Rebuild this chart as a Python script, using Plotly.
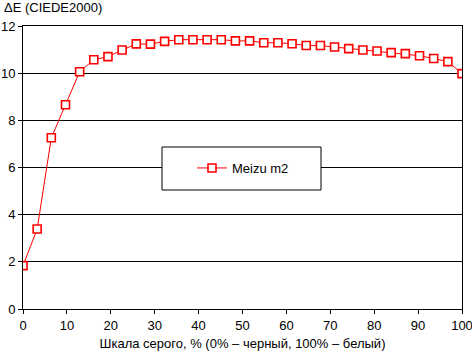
import plotly.graph_objects as go

n = 32
x_vals = [i * 100 / 31 for i in range(n)]
y_vals = [1.84, 3.39, 7.26, 8.66, 10.06, 10.57, 10.70, 10.98, 11.24, 11.23,
          11.35, 11.42, 11.42, 11.42, 11.42, 11.37, 11.37, 11.29, 11.29, 11.25,
          11.17, 11.17, 11.11, 11.04, 10.98, 10.94, 10.87, 10.83, 10.74, 10.62,
          10.49, 9.98]
series_name = "Meizu m2"
y_title = "ΔE (CIEDE2000)"
x_title = "Шкала серого, % (0% – черный, 100% – белый)"

FONT = "Liberation Sans, Arial, sans-serif"
PW, PH = 439, 283

fig = go.Figure()
fig.add_trace(go.Scatter(
    x=x_vals, y=y_vals, name=series_name, mode="lines+markers",
    line=dict(color="#ff0000", width=1),
    marker=dict(symbol="square", size=8, color="white",
                line=dict(color="#ff0000", width=1.6)),
))

fig.add_shape(type="rect", xref="paper", yref="paper",
              x0=(162 - 23) / PW, x1=(321 - 23) / PW,
              y0=(309 - 190) / PH, y1=(309 - 147) / PH,
              line=dict(color="black", width=1), fillcolor="white",
              layer="above")

fig.update_layout(
    width=472, height=352,
    margin=dict(l=23, r=10, t=26, b=43, autoexpand=False),
    paper_bgcolor="white", plot_bgcolor="white",
    font=dict(family=FONT, size=13, color="black"),
    showlegend=True,
    legend=dict(x=(192 - 23) / PW, y=(309 - 168) / PH, xanchor="left",
                yanchor="middle", bgcolor="rgba(0,0,0,0)", borderwidth=0,
                font=dict(size=13), itemwidth=30),
    xaxis=dict(range=[0, 100], tickvals=list(range(0, 101, 10)),
               showline=True, linecolor="black", linewidth=1, mirror=True,
               ticks="outside", ticklen=4, tickcolor="black",
               showgrid=False, zeroline=False, automargin=False,
               ticklabeloverflow="allow",
               title=dict(text=x_title, standoff=7, font=dict(size=13))),
    yaxis=dict(range=[0, 12], tickvals=list(range(0, 13, 2)),
               showline=True, linecolor="black", linewidth=1, mirror=True,
               ticks="outside", ticklen=4, tickcolor="black",
               showgrid=True, gridcolor="black", gridwidth=1, zeroline=False,
               automargin=False, ticklabeloverflow="allow"),
    annotations=[dict(text=y_title, xref="paper", yref="paper",
                      x=(2 - 23) / PW, y=(309 - 8) / PH, xanchor="left",
                      yanchor="middle", showarrow=False, font=dict(size=13))],
)

fig.write_html("out.html")
